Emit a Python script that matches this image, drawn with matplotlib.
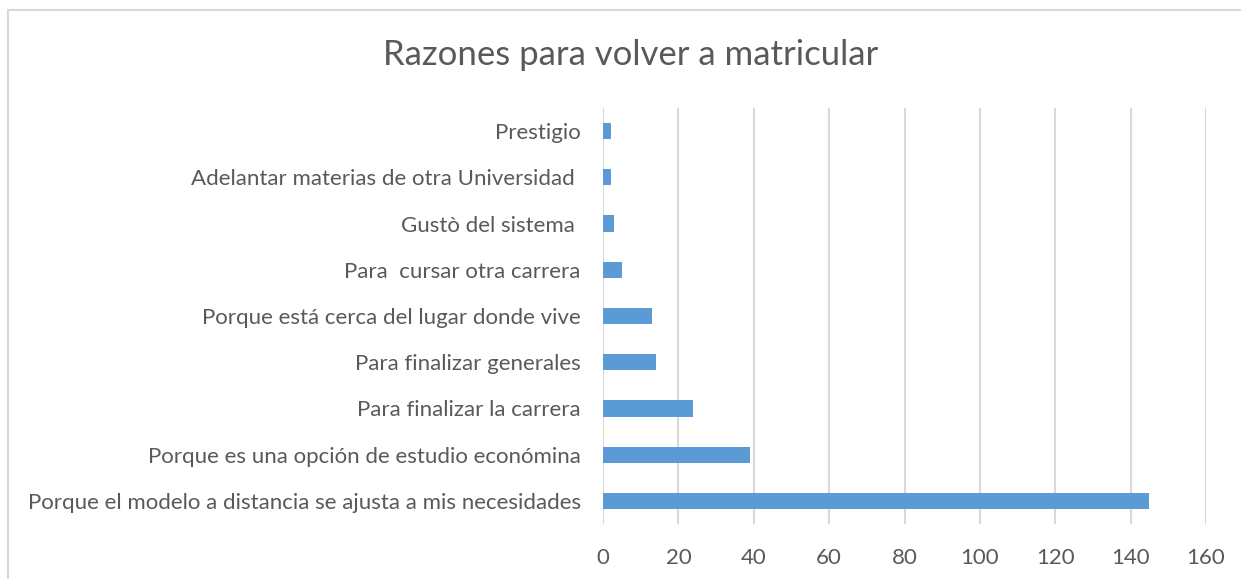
import matplotlib.pyplot as plt
from matplotlib.patches import Rectangle

razones = [
    'Porque el modelo a distancia se ajusta a mis necesidades',
    'Porque es una opción de estudio económina',
    'Para finalizar la carrera',
    'Para finalizar generales',
    'Porque está cerca del lugar donde vive',
    'Para  cursar otra carrera',
    'Gustò del sistema ',
    'Adelantar materias de otra Universidad ',
    'Prestigio',
]
cantidades = [145, 39, 24, 14, 13, 5, 3, 2, 2]
ticks_x = [0, 20, 40, 60, 80, 100, 120, 140, 160]

plt.rcParams['font.family'] = ['Lato', 'DejaVu Sans']
gris = '#595959'

fig = plt.figure(figsize=(12.41, 5.79), dpi=100)
ax = fig.add_axes([0.4859, 0.095, 0.9718 - 0.4859, 0.8135 - 0.095])

ax.barh(range(len(razones)), cantidades, height=0.35, color='#5B9BD5', zorder=3)

ax.set_xlim(0, 160)
ax.set_ylim(-0.5, len(razones) - 0.5)
ax.set_xticks(ticks_x)
ax.set_yticks(range(len(razones)))
ax.set_yticklabels(razones)
ax.tick_params(axis='both', length=0, colors=gris, labelsize=16)
ax.tick_params(axis='y', pad=16)
ax.tick_params(axis='x', pad=17)
ax.grid(axis='x', color='#D9D9D9', linewidth=1.5, zorder=0)
for s in ax.spines.values():
    s.set_visible(False)

fig.text(0.508, 0.905, 'Razones para volver a matricular', ha='center', va='center',
         fontsize=25, color=gris)

# borde del área del gráfico
fig.patches.append(Rectangle((8 / 1241, -0.1), 1.2, 1 - 10 / 579 + 0.1,
                             transform=fig.transFigure, fill=False,
                             edgecolor='#D9D9D9', linewidth=1.5))

fig.savefig('out.png', dpi=100)
